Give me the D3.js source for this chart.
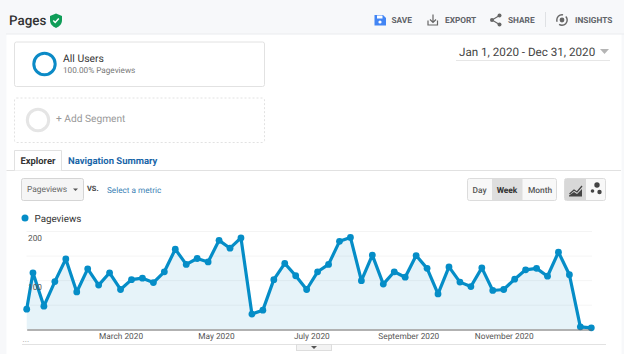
<!DOCTYPE html>
<html>
<head>
<meta charset="utf-8">
<script src="https://cdn.jsdelivr.net/npm/d3@7"></script>
<style>
html,body{margin:0;padding:0;background:#f7f8fa;overflow:hidden}
svg{display:block;font-family:Roboto,sans-serif;text-rendering:geometricPrecision}
</style>
</head>
<body>
<svg id="c" width="624" height="354"></svg>
<script>
const weekStarts = ["2020-01-01","2020-01-05","2020-01-12","2020-01-19","2020-01-26","2020-02-02","2020-02-09","2020-02-16","2020-02-23","2020-03-01","2020-03-08","2020-03-15","2020-03-22","2020-03-29","2020-04-05","2020-04-12","2020-04-19","2020-04-26","2020-05-03","2020-05-10","2020-05-17","2020-05-24","2020-05-31","2020-06-07","2020-06-14","2020-06-21","2020-06-28","2020-07-05","2020-07-12","2020-07-19","2020-07-26","2020-08-02","2020-08-09","2020-08-16","2020-08-23","2020-08-30","2020-09-06","2020-09-13","2020-09-20","2020-09-27","2020-10-04","2020-10-11","2020-10-18","2020-10-25","2020-11-01","2020-11-08","2020-11-15","2020-11-22","2020-11-29","2020-12-06","2020-12-13","2020-12-20","2020-12-27"];
const pageviews = [41,115,47,97,143,76,123,90,115,81,101,104,95,117,163,132,144,137,181,165,186,31,39,101,134,109,81,117,132,179,187,99,151,92,117,106,150,124,72,127,96,87,125,79,81,102,121,124,108,157,111,5,3];
const xTickDates = ["2020-03-01","2020-05-01","2020-07-01","2020-09-01","2020-11-01"];
const xTickLabels = ["March 2020","May 2020","July 2020","September 2020","November 2020"];
const yGridValues = [50,100,150,200];
const yLabelValues = [100,200];
const intervalLabels = ["Day","Week","Month"];

const parse = d3.utcParse("%Y-%m-%d");
const blue = "#058dc7";
const svg = d3.select("#c");

function rect(x,y,w,h,o={}){
  return svg.append("rect").attr("x",x).attr("y",y).attr("width",w).attr("height",h)
    .attr("rx",o.rx||0).attr("fill",o.fill||"none").attr("stroke",o.stroke||"none")
    .attr("stroke-width",o.sw||1).attr("stroke-dasharray",o.dash||null);
}
function text(x,y,s,size,fill,o={}){
  return svg.append("text").attr("x",x).attr("y",y).text(s).attr("font-size",size)
    .attr("fill",fill).attr("font-weight",o.w||400).attr("text-anchor",o.a||"start");
}

/* page panels */
rect(6.5,34,615,320,{fill:"#fff"});
svg.append("line").attr("x1",6).attr("x2",624).attr("y1",34).attr("y2",34).attr("stroke","#eaecef");

/* header */
text(9,24.5,"Pages",13.4,"#333",{w:500});
svg.append("path").attr("transform","translate(49,13.5)")
  .attr("d","M7 0 L13 2.4 V6.5 C13 10.5 10.5 13 7 14.4 C3.5 13 1 10.5 1 6.5 V2.4 Z").attr("fill","#0f9d58");
svg.append("path").attr("transform","translate(49,13.5)")
  .attr("d","M4.3 7 L6.2 9 L9.8 5").attr("fill","none").attr("stroke","#fff").attr("stroke-width",1.5);

/* save icon */
svg.append("path").attr("d","M374.5 15 H383 L386 18 V25.5 H374.5 Z").attr("fill","#4285f4");
rect(377,15.5,5.5,3,{fill:"#fff"});
svg.append("circle").attr("cx",380).attr("cy",22).attr("r",1.6).attr("fill","#fff");
text(391.5,23,"SAVE",8.3,"#5f6368",{w:700});
/* export icon */
svg.append("path").attr("d","M433 14.5 V22 M430 19.5 L433 22.5 L436 19.5 M428 20.5 V25 H437.5 V20.5")
  .attr("fill","none").attr("stroke","#666").attr("stroke-width",1.2);
text(445,23,"EXPORT",8.3,"#5f6368",{w:700});
/* share icon */
svg.append("path").attr("d","M499.5 15.5 L492 20 L499.5 24.5").attr("fill","none").attr("stroke","#666").attr("stroke-width",1.1);
[[499.5,15.5],[492,20],[499.5,24.5]].forEach(p=>svg.append("circle").attr("cx",p[0]).attr("cy",p[1]).attr("r",2).attr("fill","#666"));
text(508,23,"SHARE",8.3,"#5f6368",{w:700});
svg.append("line").attr("x1",545.5).attr("x2",545.5).attr("y1",12).attr("y2",27).attr("stroke","#dfe1e4");
/* insights icon */
svg.append("circle").attr("cx",562).attr("cy",20).attr("r",5.2).attr("fill","none").attr("stroke","#666").attr("stroke-width",1.4).attr("stroke-dasharray","11 3");
svg.append("circle").attr("cx",562).attr("cy",20).attr("r",2.4).attr("fill","#666");
text(575,23,"INSIGHTS",8.3,"#5f6368",{w:700});

/* date range */
text(459,56,"Jan 1, 2020 - Dec 31, 2020",11.65,"#444");
svg.append("path").attr("d","M600 49 H609 L604.5 54 Z").attr("fill","#b5b5b5");
svg.append("line").attr("x1",456).attr("x2",610).attr("y1",60.5).attr("y2",60.5).attr("stroke","#e6e6e6");

/* segments */
rect(14.5,42,250,44.5,{fill:"#fff",stroke:"#e2e2e2",rx:2});
svg.append("circle").attr("cx",44.5).attr("cy",64).attr("r",10.7).attr("fill","none").attr("stroke","#0b8ac6").attr("stroke-width",3);
text(63,62,"All Users",10.4,"#333");
text(63,73,"100.00% Pageviews",8.2,"#777");
rect(14.5,98,250,44.5,{stroke:"#e2e2e2",dash:"2 2",rx:2});
svg.append("circle").attr("cx",38).attr("cy",120).attr("r",10.7).attr("fill","none").attr("stroke","#e5e5e5").attr("stroke-width",3);
text(56,122,"+ Add Segment",10.2,"#999");

/* tabs */
svg.append("line").attr("x1",6.5).attr("x2",621).attr("y1",170.5).attr("y2",170.5).attr("stroke","#e1e1e1");
svg.append("path").attr("d","M14.5 170.5 V150.5 H61.5 V170.5").attr("fill","#fff").attr("stroke","#e1e1e1");
text(20.5,164,"Explorer",9.4,"#333",{w:700});
text(68,164,"Navigation Summary",9.5,"#1a66a8",{w:700});

/* metric picker */
rect(21.5,178.5,62,22,{fill:"#f5f5f5",stroke:"#d5d5d5",rx:2});
text(27,192,"Pageviews",8.4,"#666");
svg.append("path").attr("d","M73 188.5 H78 L75.5 191 Z").attr("fill","#555");
text(87,191,"VS.",7.4,"#444",{w:700});
text(107,192.5,"Select a metric",8.2,"#3a7fb5");

/* interval buttons */
rect(467.5,178.5,89,22,{fill:"#f8f8f8",stroke:"#dcdcdc",rx:2});
rect(492,179,30.5,21,{fill:"#dedede"});
const ivX=[479.5,507,540];
intervalLabels.forEach((l,i)=>text(ivX[i],192.5,l,8.4,i==1?"#333":"#555",{w:i==1?700:500,a:"middle"}));
rect(564.5,178.5,41,22,{fill:"#f8f8f8",stroke:"#dcdcdc",rx:2});
rect(565,179,21,21,{fill:"#d8d8d8"});
svg.append("path").attr("d","M569.5 194 L574 190 L577 192 L582 186").attr("fill","none").attr("stroke","#444").attr("stroke-width",1.3);
svg.append("path").attr("d","M569 195.5 L574 192 L577 194 L582 189 V196.5 H569 Z").attr("fill","#444");
[[597,185,2.7],[592.5,191,1.8],[599.5,192,2.2]].forEach(p=>svg.append("circle").attr("cx",p[0]).attr("cy",p[1]).attr("r",p[2]).attr("fill","#444"));

/* legend */
svg.append("circle").attr("cx",25).attr("cy",218).attr("r",3.5).attr("fill",blue);
text(34.5,222,"Pageviews",9.8,"#333");

/* chart */
const dates = weekStarts.map(parse);
const x = d3.scaleUtc().domain([dates[0],dates[dates.length-1]]).range([26.7,591.3]);
const y = d3.scaleLinear().domain([0,200]).range([329.3,231]);
const data = dates.map((d,i)=>({d,v:pageviews[i]}));

svg.append("path").datum(data).attr("fill","#e6f3f9")
  .attr("d",d3.area().x(d=>x(d.d)).y0(y(0)).y1(d=>y(d.v)));

const grid = svg.append("g").attr("transform","translate(26.5,0)")
  .call(d3.axisLeft(y).tickValues(yGridValues).tickSize(-565.5).tickFormat(""));
grid.select(".domain").remove();
grid.selectAll(".tick line").attr("stroke","#000").attr("stroke-opacity",0.045);

svg.append("path").datum(data).attr("fill","none").attr("stroke",blue).attr("stroke-width",3.2).attr("stroke-linejoin","round")
  .attr("d",d3.line().x(d=>x(d.d)).y(d=>y(d.v)));
svg.append("g").selectAll("circle").data(data).join("circle")
  .attr("cx",d=>x(d.d)).attr("cy",d=>y(d.v)).attr("r",3.4).attr("fill",blue);

const yLab = svg.append("g").attr("transform","translate(28,0)")
  .call(d3.axisRight(y).tickValues(yLabelValues).tickSize(0).tickPadding(0).tickFormat(d3.format("d")));
yLab.select(".domain").remove();
yLab.selectAll("text").attr("font-family","Roboto,sans-serif").attr("font-size",8.3).attr("fill","#555").attr("dy",9);

const xAxis = svg.append("g").attr("transform","translate(0,329.5)")
  .call(d3.axisBottom(x).tickValues(xTickDates.map(parse)).tickSize(0).tickPadding(4)
    .tickFormat((d,i)=>xTickLabels[i]));
xAxis.select(".domain").attr("stroke","#666").attr("stroke-width",1);
xAxis.selectAll("text").attr("font-family","Roboto,sans-serif").attr("font-size",8.3).attr("fill","#555");
text(22.5,341.5,"...",8.3,"#999");

/* bottom rule and toggle */
svg.append("line").attr("x1",22).attr("x2",606).attr("y1",344.5).attr("y2",344.5).attr("stroke","#e2e2e2");
rect(296.5,344.5,35,6,{fill:"#f3f3f3",stroke:"#ddd"});
svg.append("path").attr("d","M311 346 H317 L314 349 Z").attr("fill","#555");
</script>
</body>
</html>
